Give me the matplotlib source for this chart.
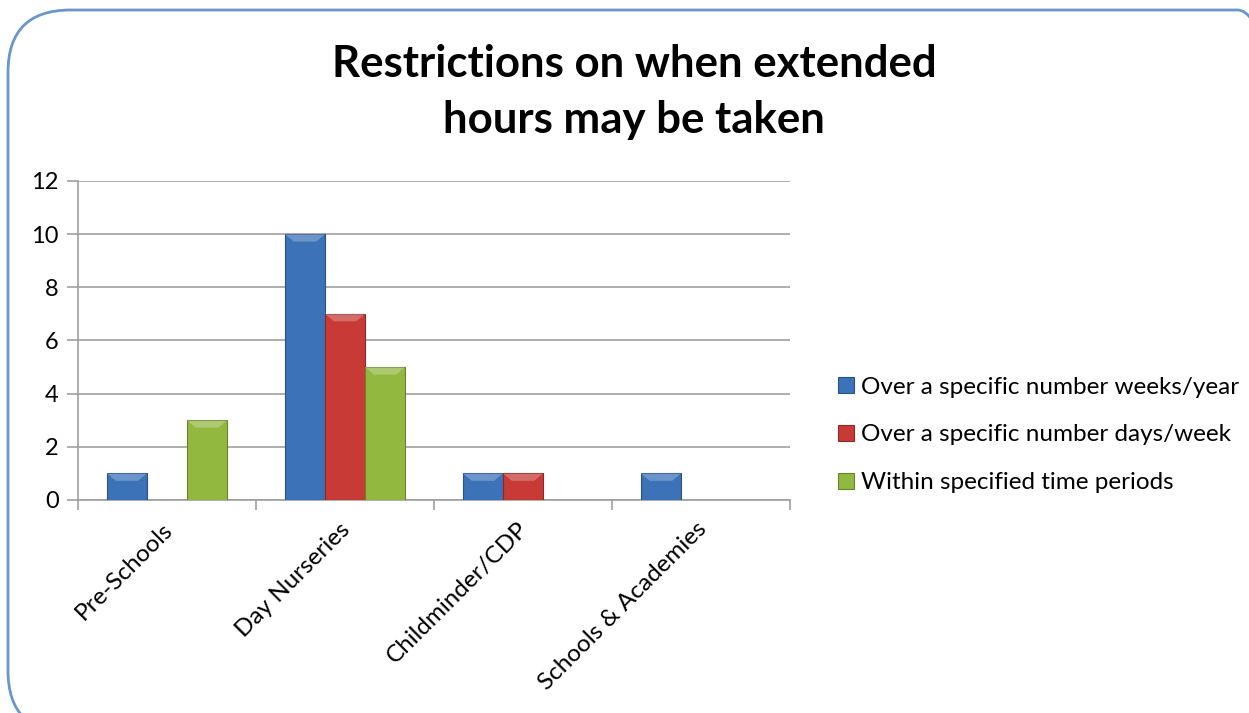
import matplotlib
matplotlib.use("Agg")
import matplotlib.pyplot as plt
import numpy as np
from matplotlib.patches import FancyBboxPatch

categories = ["Pre-Schools", "Day Nurseries", "Childminder/CDP", "Schools & Academies"]
series_names = ["Over a specific number weeks/year",
                "Over a specific number days/week",
                "Within specified time periods"]
weeks_year = [1, 10, 1, 1]
days_week = [0, 7, 1, 0]
time_periods = [3, 5, 0, 0]
yticks = [0, 2, 4, 6, 8, 10, 12]

colors = ["#3C72B8", "#C83A36", "#93B840"]
edges = ["#2A5287", "#8E2826", "#66822C"]

plt.rcParams['font.family'] = ['Lato', 'DejaVu Sans']

fig = plt.figure(figsize=(12.49, 7.13), dpi=100)
W, H = 1249, 713

# rounded frame
frame = FancyBboxPatch((8 / W, -20 / H), (1300 - 8) / W, (713 - 10 + 20) / H,
                       boxstyle="round,pad=0,rounding_size=0.05",
                       transform=fig.transFigure, fill=False,
                       edgecolor="#6A96CC", linewidth=2, mutation_aspect=W / H)
fig.patches.append(frame)

ax = fig.add_axes([78 / W, 1 - 500 / H, (790 - 78) / W, (500 - 181) / H])

x = np.arange(len(categories))
bw = 0.225
all_series = [weeks_year, days_week, time_periods]
handles = []
for i, vals in enumerate(all_series):
    offs = (i - 1) * bw
    v = np.array(vals, dtype=float)
    mask = v > 0
    b = ax.bar(x[mask] + offs, v[mask], width=bw, color=colors[i],
               edgecolor=edges[i], linewidth=0.8, zorder=3)
    # bevel highlight at top of each bar
    for xi, vi in zip(x[mask] + offs, v[mask]):
        ax.fill([xi - bw / 2, xi + bw / 2, xi + bw / 2 - 0.05, xi - bw / 2 + 0.05],
                [vi, vi, vi - 0.28, vi - 0.28],
                color="white", alpha=0.25, lw=0, zorder=4)
    handles.append(b)

ax.set_xlim(-0.5, len(categories) - 0.5)
ax.set_ylim(0, 12)
ax.set_yticks(yticks)
ax.yaxis.grid(True, color="#A0A0A0", linewidth=1.2, zorder=0)
ax.set_axisbelow(True)
for s in ["top", "right"]:
    ax.spines[s].set_visible(False)
ax.spines["left"].set_color("#A0A0A0")
ax.spines["bottom"].set_color("#A0A0A0")
ax.spines["left"].set_linewidth(1.2)
ax.spines["bottom"].set_linewidth(1.2)
ax.tick_params(axis="y", colors="#A0A0A0", length=8, width=1.2,
               labelcolor="#000000", labelsize=17, pad=6)
ax.set_xticks(np.arange(-0.5, len(categories) + 0.5, 1.0))
ax.set_xticklabels([])
ax.tick_params(axis="x", colors="#A0A0A0", length=7, width=1.2)
for xi, c in zip(x, categories):
    ax.text(xi - 0.03, -0.7, c, rotation=45, ha="right", va="top",
            rotation_mode="anchor", fontsize=17.5, color="#000000")

fig.text(634 / W, 1 - 92 / H, "Restrictions on when extended\nhours may be taken",
         ha="center", va="center", fontsize=31.5, fontweight="bold",
         linespacing=1.5)

leg = fig.legend([h for h in handles], series_names,
                 loc="center left", bbox_to_anchor=(816 / W, 1 - 435 / H),
                 frameon=False, fontsize=17.5, handlelength=0.65, handleheight=0.65,
                 handletextpad=0.3, labelspacing=1.1)

fig.savefig("out.png", dpi=100)
